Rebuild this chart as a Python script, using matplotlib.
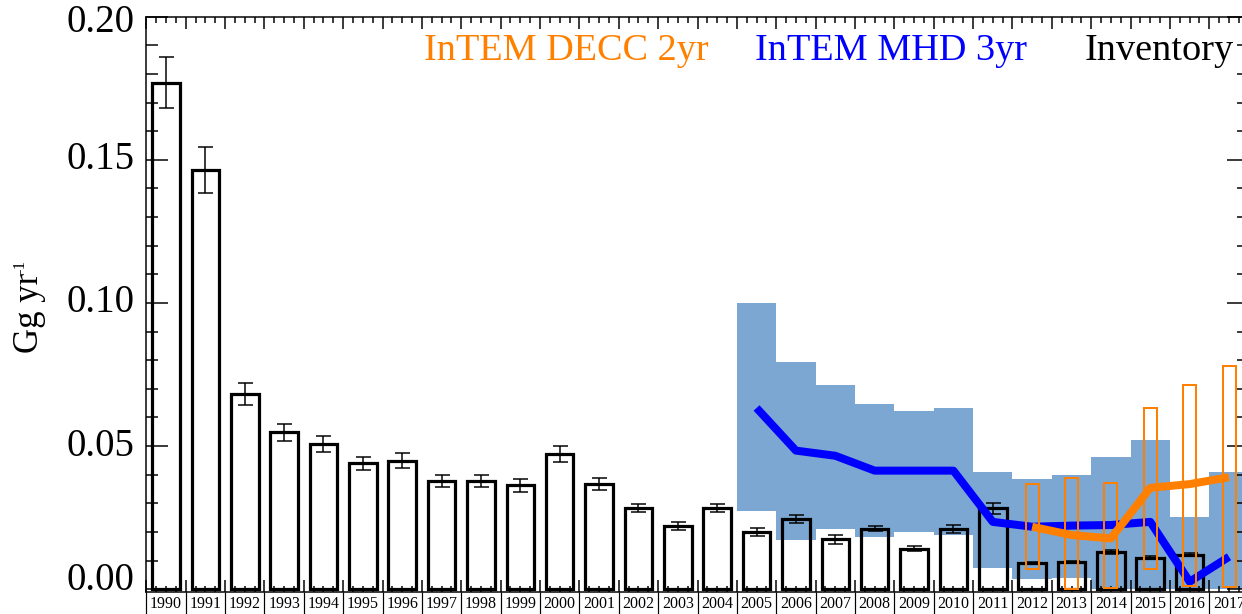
#!/usr/bin/env python3

import numpy as np
import matplotlib
matplotlib.use('Agg')
import matplotlib.pyplot as plt
from matplotlib.ticker import FixedLocator, MultipleLocator
from matplotlib import transforms

# inventory (black bars + error bars)
inv_years = list(range(1990, 2017))
inv_vals = [0.177, 0.1465, 0.0682, 0.0548, 0.0507, 0.0439, 0.0449, 0.0378, 0.0378,
            0.0363, 0.0472, 0.0368, 0.0283, 0.0220, 0.0283, 0.0200, 0.0244, 0.0174,
            0.0211, 0.0141, 0.0211, 0.0282, 0.0092, 0.0096, 0.0130, 0.0110, 0.0121]
inv_err = [0.0090, 0.0080, 0.0037, 0.0029, 0.0029, 0.0024, 0.0025, 0.0022, 0.0022,
           0.0022, 0.0029, 0.0021, 0.0015, 0.0014, 0.0015, 0.0014, 0.0014, 0.0015,
           0.0008, 0.0009, 0.0014, 0.0020, 0.0004, 0.0004, 0.0006, 0.0006, 0.0004]

# InTEM MHD 3yr (blue line + shaded range)
mhd_years = list(range(2005, 2018))
mhd_vals = [0.0633, 0.0484, 0.0466, 0.0414, 0.0414, 0.0414, 0.0235, 0.0218, 0.0222,
            0.0224, 0.0235, 0.0026, 0.0113]
mhd_hi = [0.100, 0.0795, 0.0713, 0.0647, 0.0623, 0.0632, 0.0408, 0.0386, 0.0400,
          0.0460, 0.0522, 0.0252, 0.0408]
mhd_lo = [0.0273, 0.0171, 0.0209, 0.0182, 0.0199, 0.0190, 0.0073, 0.0035, 0.0038,
          0.0, 0.0, 0.0, 0.0]

# InTEM DECC 2yr (orange line + boxes)
decc_years = list(range(2012, 2018))
decc_vals = [0.0218, 0.0189, 0.0177, 0.0354, 0.0367, 0.0391]
decc_hi = [0.0367, 0.0390, 0.0370, 0.0634, 0.0713, 0.0780]
decc_lo = [0.0072, 0.0002, 0.0003, 0.0072, 0.0012, 0.0008]

yticks = [0.00, 0.05, 0.10, 0.15, 0.20]

ORANGE = '#FF8000'
BLUE = '#0000FF'
BAND = '#7BA7D2'

PX = 0.72  # points per pixel at dpi 100


def main():
    plt.rcParams['font.family'] = ['Liberation Serif', 'DejaVu Serif']

    fig = plt.figure(figsize=(12.42, 6.14), dpi=100)
    W, H = 1242, 614
    ax = fig.add_axes([146.3 / W, 22 / H, 1102.4 / W, 575.3 / H])

    # shaded MHD range, one step per year
    edges = np.append(np.array(mhd_years) - 0.5, mhd_years[-1] + 0.5)
    ax.stairs(mhd_hi, edges, baseline=mhd_lo, fill=True, color=BAND, lw=0, zorder=1)

    # inventory bars (unfilled)
    ax.bar(inv_years, inv_vals, width=0.7, fill=False, edgecolor='black',
           linewidth=3.2 * PX, zorder=3)
    ax.errorbar(inv_years, inv_vals, yerr=inv_err, fmt='none', ecolor='black',
                elinewidth=1.5 * PX, capsize=7.5 * PX, capthick=1.5 * PX, zorder=4)

    # MHD line
    ax.plot(mhd_years, mhd_vals, color=BLUE, lw=8 * PX, solid_capstyle='butt', zorder=5)

    # DECC boxes and line
    ax.bar(decc_years, np.array(decc_hi) - np.array(decc_lo), bottom=decc_lo,
           width=0.33, fill=False, edgecolor=ORANGE, linewidth=2 * PX, zorder=6)
    ax.plot(decc_years, decc_vals, color=ORANGE, lw=8 * PX, solid_capstyle='butt', zorder=7)

    ax.set_xlim(inv_years[0] - 0.5, mhd_years[-1] + 0.5)
    ax.set_ylim(-0.001, 0.20)

    # ticks
    bounds = np.arange(inv_years[0] - 0.5, mhd_years[-1] + 1.0, 1.0)
    ax.xaxis.set_major_locator(FixedLocator(bounds))
    ax.xaxis.set_minor_locator(MultipleLocator(0.25))
    ax.yaxis.set_major_locator(FixedLocator(yticks))
    ax.yaxis.set_minor_locator(MultipleLocator(0.01))
    ax.tick_params(axis='x', which='both', direction='in', top=True, bottom=True,
                   labelbottom=False, width=1.5 * PX)
    ax.tick_params(axis='x', which='major', length=12 * PX)
    ax.tick_params(axis='x', which='minor', length=6 * PX)
    ax.tick_params(axis='y', which='both', direction='in', left=True, right=True,
                   labelleft=False, width=1.5 * PX)
    ax.tick_params(axis='y', which='major', length=22 * PX)
    ax.tick_params(axis='y', which='minor', length=12 * PX)
    for s in ax.spines.values():
        s.set_linewidth(1.5 * PX)

    # separators between year labels below the axis
    sep = transforms.blended_transform_factory(ax.transData, ax.transAxes)
    ax.vlines(bounds, -0.045, 0, transform=sep, color='black', lw=1.2 * PX, clip_on=False)
    for y in inv_years + [mhd_years[-1]]:
        ax.text(y, -12 / 575.3, str(y), transform=sep, ha='center', va='center',
                fontsize=11.5, clip_on=False)

    # y tick labels (end labels nudged inward)
    ylab = transforms.blended_transform_factory(ax.transAxes, ax.transData)
    nudge = {0.00: 9, 0.20: -6}
    for v in yticks:
        t = transforms.offset_copy(ylab, fig=fig, x=-12, y=nudge.get(v, 0), units='dots')
        ax.text(0, v, f'{v:.2f}', transform=t, ha='right', va='center', fontsize=28)

    # y label with a small superscript
    fig.text(30 / W, 1 - 313 / H, 'Gg yr', rotation=90, ha='center',
             va='center', fontsize=25)
    fig.text(20 / W, 1 - 267 / H, '-1', rotation=90, ha='center',
             va='center', fontsize=12)

    # legend as coloured text
    fig.text(424 / W, 1 - 51 / H, 'InTEM DECC 2yr', color=ORANGE, fontsize=27.5,
             ha='left', va='center')
    fig.text(755 / W, 1 - 51 / H, 'InTEM MHD 3yr', color=BLUE, fontsize=27.5,
             ha='left', va='center')
    fig.text(1085 / W, 1 - 51 / H, 'Inventory', color='black', fontsize=27.5,
             ha='left', va='center')

    fig.savefig('out.png', dpi=100)


if __name__ == '__main__':
    main()
